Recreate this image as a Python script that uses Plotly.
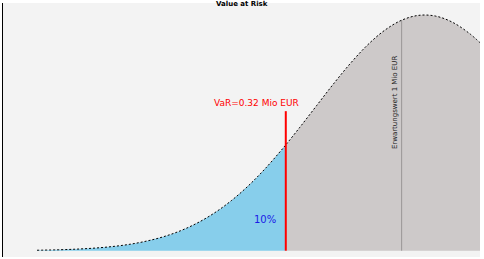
import plotly.graph_objects as go

# Portfolio value change (Mio EUR) and density
x_vals = [-1.14, -1.0, -0.9, -0.8, -0.7, -0.6, -0.5, -0.4, -0.3, -0.2, -0.1, 0.0,
          0.1, 0.2, 0.3, 0.32, 0.4, 0.5, 0.6, 0.7, 0.8, 0.9, 1.0, 1.1, 1.2, 1.3, 1.4, 1.46]
density = [0.0012, 0.0026, 0.0043, 0.0069, 0.0108, 0.0166, 0.0250, 0.0365, 0.0521, 0.0727,
           0.0990, 0.1316, 0.1707, 0.2163, 0.2676, 0.2784, 0.3232, 0.3811, 0.4388, 0.4931,
           0.5411, 0.5796, 0.6062, 0.6190, 0.6170, 0.6005, 0.5707, 0.5471]

var_value = 0.32
var_label = "VaR=0.32 Mio EUR"
mean_value = 1.0
mean_density = 0.6062
mean_label = "Erwartungswert 1 Mio EUR"
tail_label = "10%"
title_text = "Value at Risk"
var_line_top = 0.367

left_x = [x for x in x_vals if x <= var_value]
left_y = [d for x, d in zip(x_vals, density) if x <= var_value]
right_x = [x for x in x_vals if x >= var_value]
right_y = [d for x, d in zip(x_vals, density) if x >= var_value]

fig = go.Figure()
fig.add_trace(go.Scatter(x=left_x, y=left_y, mode="lines", fill="tozeroy",
                         fillcolor="#87CEEB", line=dict(width=0, shape="spline"),
                         hoverinfo="skip"))
fig.add_trace(go.Scatter(x=right_x, y=right_y, mode="lines", fill="tozeroy",
                         fillcolor="#CDC9C9", line=dict(width=0, shape="spline"),
                         hoverinfo="skip"))
fig.add_trace(go.Scatter(x=[mean_value, mean_value], y=[0, mean_density], mode="lines",
                         line=dict(color="#9a9696", width=1)))
fig.add_trace(go.Scatter(x=x_vals, y=density, mode="lines",
                         line=dict(color="black", width=1, dash="2px,2px", shape="spline")))
fig.add_trace(go.Scatter(x=[var_value, var_value], y=[0, var_line_top], mode="lines",
                         line=dict(color="#ff0000", width=2)))

fig.add_annotation(x=0.15, y=var_line_top + 0.003, text=var_label, showarrow=False,
                   xanchor="center", yanchor="bottom",
                   font=dict(family="DejaVu Sans", size=9, color="#ff0000"))
fig.add_annotation(x=0.2, y=0.083, text=tail_label, showarrow=False,
                   xanchor="center", yanchor="middle",
                   font=dict(family="DejaVu Sans", size=10, color="#1a1ae6"))
fig.add_annotation(x=0.965, y=0.39, text=mean_label, showarrow=False, textangle=-90,
                   xanchor="center", yanchor="middle",
                   font=dict(family="DejaVu Sans", size=7, color="#222222"))
fig.add_annotation(x=0.5, y=1.0, xref="paper", yref="paper", text="<b>" + title_text + "</b>",
                   showarrow=False, xanchor="center", yanchor="middle", yshift=-1,
                   font=dict(family="DejaVu Sans", size=7, color="black"))

fig.update_layout(
    width=484, height=259,
    margin=dict(l=3, r=4, t=3, b=2),
    paper_bgcolor="white", plot_bgcolor="#f3f3f3",
    showlegend=False,
    xaxis=dict(range=[-1.34, 1.46], showgrid=False, zeroline=False, showticklabels=False,
               ticks="", showline=False),
    yaxis=dict(range=[-0.01657, 0.6515], showgrid=False, zeroline=False, showticklabels=False,
               ticks="", showline=True, linecolor="black", linewidth=1),
)

fig.write_html("out.html")
